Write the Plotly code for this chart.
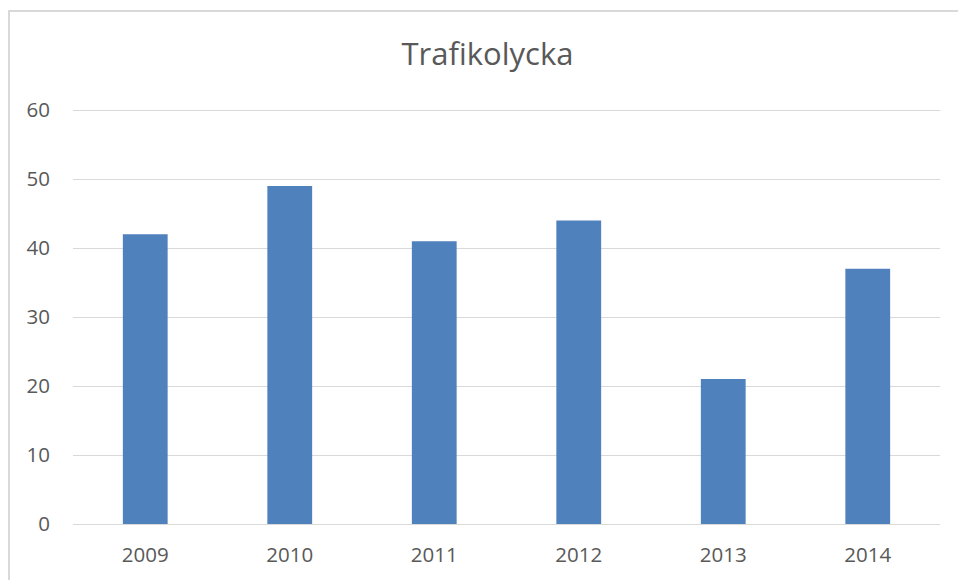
import plotly.graph_objects as go

years = ["2009", "2010", "2011", "2012", "2013", "2014"]
values = [42, 49, 41, 44, 21, 37]
y_ticks = [0, 10, 20, 30, 40, 50, 60]
title_text = "Trafikolycka"

W, H = 958, 580
L, R, T, B = 73, 18, 108, 56
pw, ph = W - L - R, H - T - B

def px_x(px):
    return (px - L) / pw

def px_y(py):
    return (H - B - py) / ph

fig = go.Figure(go.Bar(x=years, y=values, marker=dict(color="#4f81bd", line=dict(width=0)), width=0.31))

fig.update_layout(
    width=W, height=H,
    margin=dict(l=L, r=R, t=T, b=B),
    paper_bgcolor="white", plot_bgcolor="white",
    font=dict(family="Open Sans", color="#595959", size=20),
    title=dict(text=title_text, x=487.5 / W, xanchor="center",
               y=1 - 54 / H, yanchor="middle",
               font=dict(size=31, color="#595959", family="Open Sans")),
    showlegend=False,
    xaxis=dict(showgrid=False, showline=False, ticks="", ticklabelstandoff=16,
               tickfont=dict(size=20.5, color="#595959")),
    yaxis=dict(range=[0, 60.3], tickvals=y_ticks, showgrid=True, gridcolor="#d9d9d9", gridwidth=1,
               zeroline=True, zerolinecolor="#d9d9d9", zerolinewidth=1, showline=False,
               ticks="", ticklabelstandoff=22, tickfont=dict(size=20.5, color="#595959")),
    shapes=[dict(type="rect", xref="paper", yref="paper",
                 x0=px_x(9), x1=px_x(965), y0=px_y(590), y1=px_y(11),
                 line=dict(color="#d9d9d9", width=2), fillcolor="rgba(0,0,0,0)", layer="below")],
)

fig.write_html("out.html", config={"displayModeBar": False},
               post_script="document.body.style.margin='0';document.body.style.overflow='hidden';")
